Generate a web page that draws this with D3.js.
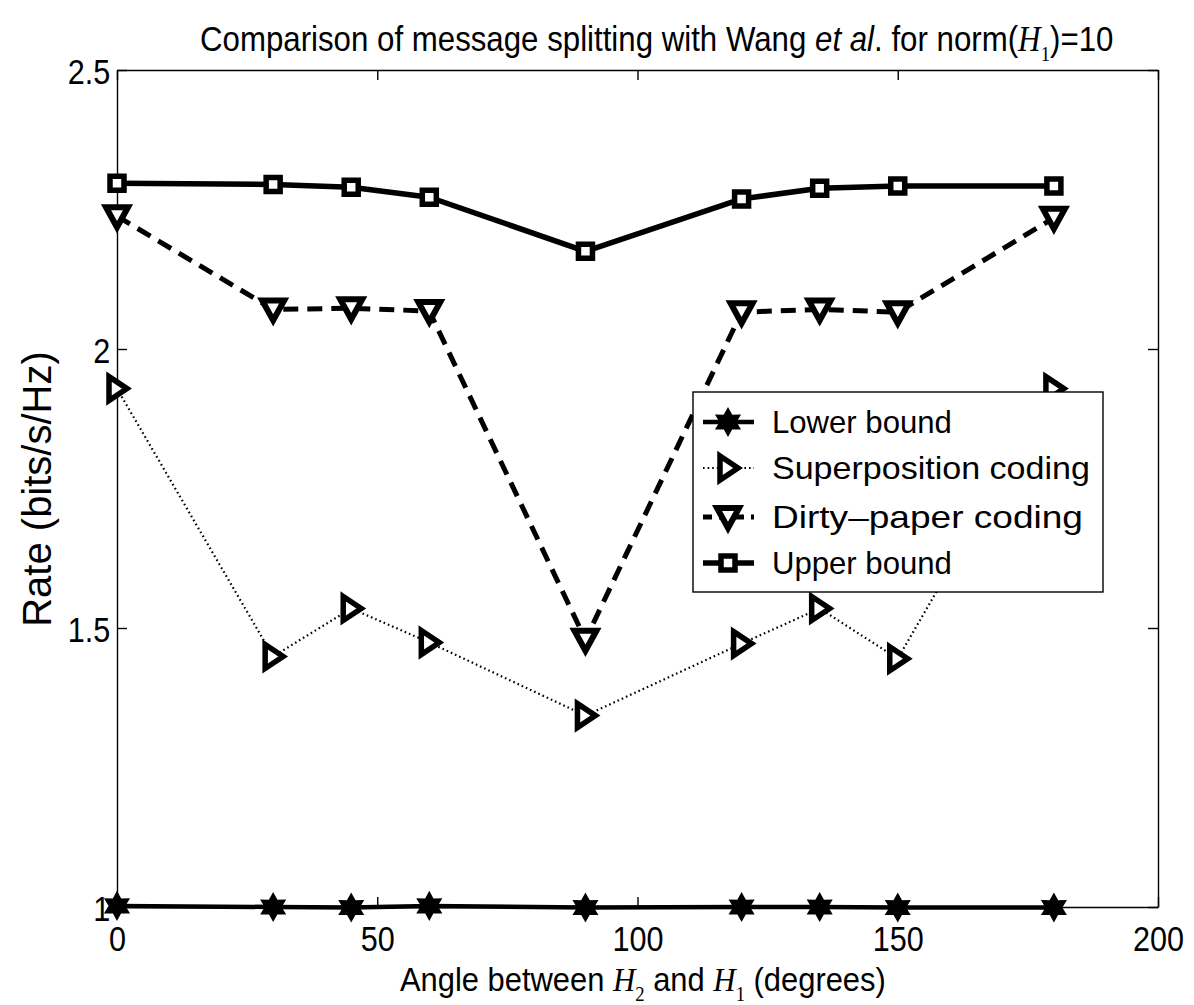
<!DOCTYPE html>
<html><head><meta charset="utf-8">
<script src="https://cdn.jsdelivr.net/npm/d3@7"></script>
<style>
html,body{margin:0;padding:0;background:#fff;}
svg{display:block;}
text{font-family:"Liberation Sans",Arial,Helvetica,sans-serif;fill:#000;}
</style></head>
<body>
<svg id="chart" width="1194" height="1005"></svg>
<script>
// ---- data ----
const angles = [0, 30, 45, 60, 90, 120, 135, 150, 180];
const lowerBound = [1.002, 1.0, 0.999, 1.002, 0.999, 1.0, 1.0, 0.999, 0.999];
const superposition = [1.929, 1.449, 1.535, 1.474, 1.343, 1.472, 1.535, 1.445, 1.929];
const dirtyPaper = [2.238, 2.071, 2.073, 2.068, 1.479, 2.066, 2.071, 2.066, 2.235];
const upperBound = [2.297, 2.295, 2.290, 2.272, 2.175, 2.269, 2.288, 2.292, 2.292];
const xTicks = [0, 50, 100, 150, 200];
const yTicks = [1, 1.5, 2, 2.5];
const yTickLabels = ["1", "1.5", "2", "2.5"];
const seriesNames = ["Lower bound", "Superposition coding", "Dirty\u2013paper coding", "Upper bound"];

const svg = d3.select("#chart");
const x = d3.scaleLinear().domain([0, 200]).range([117, 1158]);
const y = d3.scaleLinear().domain([1, 2.5]).range([907, 70]);

// custom marker shapes (dimensions in px)
const hexagram = {
  draw(ctx) {
    const R = 13.5, r = 7.6;
    for (let i = 0; i < 12; i++) {
      const a = -Math.PI / 2 + i * Math.PI / 6;
      const rr = i % 2 === 0 ? R : r;
      const px = rr * Math.cos(a), py = rr * Math.sin(a);
      if (i === 0) ctx.moveTo(px, py); else ctx.lineTo(px, py);
    }
    ctx.closePath();
  }
};
const triDown = {
  draw(ctx) {
    ctx.moveTo(-11, -9);
    ctx.lineTo(11, -9);
    ctx.lineTo(0, 11);
    ctx.closePath();
  }
};
const triRight = {
  draw(ctx) {
    ctx.moveTo(-8, -12);
    ctx.lineTo(10, 0);
    ctx.lineTo(-8, 12);
    ctx.closePath();
  }
};
const square = {
  draw(ctx) {
    ctx.rect(-7, -7, 14, 14);
  }
};

const series = [
  {name: seriesNames[0], vals: lowerBound, dash: null, lw: 4.5, sym: hexagram, fill: "#000", sw: 1.5},
  {name: seriesNames[1], vals: superposition, dash: "1.6,3", lw: 2.2, sym: triRight, fill: "#fff", sw: 5.5},
  {name: seriesNames[2], vals: dirtyPaper, dash: "15,9", lw: 5, sym: triDown, fill: "#fff", sw: 6},
  {name: seriesNames[3], vals: upperBound, dash: null, lw: 5.5, sym: square, fill: "#fff", sw: 5.5}
];

// axes frame
const ax = svg.append("g");
ax.append("g").attr("transform", `translate(0,${y(1)})`)
  .call(d3.axisBottom(x).tickValues(xTicks).tickFormat(d3.format("d")).tickSizeInner(-10).tickSizeOuter(0).tickPadding(18));
ax.append("g").attr("transform", `translate(0,${y(2.5)})`)
  .call(d3.axisTop(x).tickValues(xTicks).tickFormat("").tickSizeInner(-10).tickSizeOuter(0));
const gl = ax.append("g").attr("transform", `translate(${x(0)},0)`)
  .call(d3.axisLeft(y).tickValues(yTicks).tickFormat((d, i) => yTickLabels[i]).tickSizeInner(-10).tickSizeOuter(0).tickPadding(8));
ax.append("g").attr("transform", `translate(${x(200)},0)`)
  .call(d3.axisRight(y).tickValues(yTicks).tickFormat("").tickSizeInner(-10).tickSizeOuter(0));
ax.selectAll(".domain").attr("stroke", "#000").attr("stroke-width", 1.4);
ax.selectAll(".tick line").attr("stroke", "#000").attr("stroke-width", 1.4);
ax.selectAll(".tick text").attr("font-size", 36).attr("font-family", "Liberation Sans, Arial, sans-serif").attr("fill", "#000")
  .attr("transform", "scale(0.85,1)");
gl.selectAll(".tick text").attr("dy", "0.38em");

// series
const line = d3.line().x((d, i) => x(angles[i])).y(d => y(d));
series.forEach(s => {
  const g = svg.append("g");
  g.append("path").datum(s.vals).attr("d", line)
    .attr("fill", "none").attr("stroke", "#000").attr("stroke-width", s.lw)
    .attr("stroke-dasharray", s.dash).attr("stroke-linejoin", "round");
  g.selectAll("path.m").data(s.vals).join("path").attr("class", "m")
    .attr("transform", (d, i) => `translate(${x(angles[i])},${y(d)})`)
    .attr("d", d3.symbol().type(s.sym))
    .attr("fill", s.fill).attr("stroke", "#000").attr("stroke-width", s.sw).attr("stroke-linejoin", "miter");
});

// legend
function fitWidth(sel, x0, targetW) {
  const w = sel.node().getComputedTextLength();
  const k = targetW / w;
  sel.attr("transform", `translate(${x0},0) scale(${k},1) translate(${-x0},0)`);
}
const lg = svg.append("g");
lg.append("rect").attr("x", 693).attr("y", 392).attr("width", 410).attr("height", 200)
  .attr("fill", "#fff").attr("stroke", "#000").attr("stroke-width", 1.4);
const legY = [422, 468, 517, 563];
const legW = [180, 318, 311, 180];
series.forEach((s, k) => {
  const cy = legY[k];
  lg.append("line").attr("x1", 703).attr("x2", 754).attr("y1", cy).attr("y2", cy)
    .attr("stroke", "#000").attr("stroke-width", s.lw)
    .attr("stroke-dasharray", s.dash ? (k === 2 ? "9,7" : s.dash) : null);
  lg.append("path").attr("transform", `translate(728,${cy})`)
    .attr("d", d3.symbol().type(s.sym))
    .attr("fill", s.fill).attr("stroke", "#000").attr("stroke-width", s.sw);
  const t = lg.append("text").attr("x", 772).attr("y", cy + 11).attr("font-size", 31).text(s.name);
  fitWidth(t, 772, legW[k]);
});

// title
const serif = "Liberation Serif, Times New Roman, serif";
const title = svg.append("text").attr("x", 200).attr("y", 51).attr("font-size", 35);
title.append("tspan").text("Comparison of message splitting with Wang ");
title.append("tspan").attr("font-style", "italic").text("et al");
title.append("tspan").text(". for norm(");
title.append("tspan").attr("font-family", serif).attr("font-style", "italic").text("H");
title.append("tspan").attr("font-family", serif).attr("font-size", 21).attr("dy", 10).text("1");
title.append("tspan").attr("dy", -10).text(")=10");
fitWidth(title, 200, 914);

// x label
const xl = svg.append("text").attr("x", 400).attr("y", 991).attr("font-size", 33);
xl.append("tspan").text("Angle between ");
xl.append("tspan").attr("font-family", serif).attr("font-style", "italic").text("H");
xl.append("tspan").attr("font-family", serif).attr("font-size", 20).attr("dy", 10).text("2");
xl.append("tspan").attr("dy", -10).text(" and ");
xl.append("tspan").attr("font-family", serif).attr("font-style", "italic").text("H");
xl.append("tspan").attr("font-family", serif).attr("font-size", 20).attr("dy", 10).text("1");
xl.append("tspan").attr("dy", -10).text(" (degrees)");
fitWidth(xl, 400, 486);

// y label
svg.append("text").attr("transform", "translate(51,489) rotate(-90)")
  .attr("text-anchor", "middle").attr("font-size", 40).text("Rate (bits/s/Hz)");
</script>
</body></html>
